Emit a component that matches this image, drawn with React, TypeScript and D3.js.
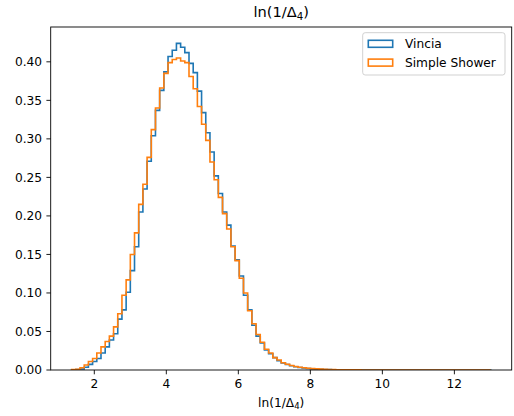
import React from "react";
import * as d3 from "d3";

const BIN_MIN = 1.371;
const BIN_MAX = 13.01;
const N_BINS = 100;

const SERIES_NAMES = ["Vincia", "Simple Shower"];
const SERIES_COLORS = ["#1f77b4", "#ff7f0e"];

const vinciaValues = [
  0.0002, 0.0005, 0.0013, 0.0035, 0.0073, 0.011, 0.015, 0.022, 0.030, 0.039,
  0.047, 0.066, 0.078, 0.101, 0.129, 0.160, 0.205, 0.235, 0.271, 0.304,
  0.337, 0.363, 0.387, 0.407, 0.415, 0.424, 0.419, 0.412, 0.398, 0.386,
  0.362, 0.334, 0.308, 0.283, 0.252, 0.229, 0.205, 0.188, 0.161, 0.143,
  0.122, 0.097, 0.078, 0.058, 0.044, 0.035, 0.026, 0.021, 0.016, 0.012,
  0.0093, 0.0072, 0.0055, 0.0042, 0.0033, 0.0026, 0.0020, 0.0015, 0.0012, 0.0009,
  0.0007, 0.0005, 0.0004, 0.0003, 0.00025, 0.0002, 0.00015, 0.00012, 0.0001, 0.00008,
  0.00006, 0.00005, 0.00004, 0.00003, 0.00002, 0.00002, 0.00001, 0.00001, 0.00001, 0,
  0, 0, 0, 0, 0, 0, 0, 0, 0, 0,
  0, 0, 0, 0, 0, 0, 0, 0, 0, 0.000005,
];

const simpleShowerValues = [
  0.0005, 0.001, 0.003, 0.0065, 0.011, 0.015, 0.022, 0.030, 0.037, 0.044,
  0.056, 0.073, 0.097, 0.117, 0.150, 0.178, 0.215, 0.241, 0.276, 0.312,
  0.340, 0.366, 0.385, 0.399, 0.403, 0.405, 0.401, 0.399, 0.381, 0.365,
  0.342, 0.319, 0.298, 0.270, 0.247, 0.224, 0.203, 0.183, 0.160, 0.142,
  0.119, 0.100, 0.077, 0.060, 0.046, 0.036, 0.027, 0.022, 0.016, 0.013,
  0.0095, 0.0075, 0.0058, 0.0045, 0.0036, 0.0029, 0.0023, 0.0018, 0.0014, 0.0011,
  0.0009, 0.0007, 0.0005, 0.0004, 0.0003, 0.00025, 0.0002, 0.00015, 0.0001, 0.00008,
  0.00006, 0.00005, 0.00004, 0.00003, 0.00002, 0.00001, 0.00001, 0, 0, 0,
  0, 0, 0, 0, 0, 0, 0, 0, 0, 0,
  0, 0, 0, 0, 0, 0, 0, 0, 0, 0,
];

const X_TICKS = [2, 4, 6, 8, 10, 12];
const Y_TICKS = [0, 0.05, 0.1, 0.15, 0.2, 0.25, 0.3, 0.35, 0.4];

const W = 514;
const H = 416;
const LEFT = 50.7;
const RIGHT = 511.7;
const TOP = 27;
const BOTTOM = 370;
const FONT = "DejaVu Sans, sans-serif";
const FS = 12.2;
const TICK = 4.3;

function stepPath(values: number[], x: d3.ScaleLinear<number, number>, y: d3.ScaleLinear<number, number>) {
  const w = (BIN_MAX - BIN_MIN) / N_BINS;
  const pts: [number, number][] = [];
  pts.push([x(BIN_MIN), y(0)]);
  values.forEach((v, i) => {
    pts.push([x(BIN_MIN + i * w), y(v)]);
    pts.push([x(BIN_MIN + (i + 1) * w), y(v)]);
  });
  pts.push([x(BIN_MAX), y(0)]);
  return d3.line()(pts) || "";
}

function MathLabel({ x, y, size }: { x: number; y: number; size: number }) {
  return (
    <text x={x} y={y} textAnchor="middle" fontFamily={FONT} fontSize={size} fill="#000">
      <tspan>ln(1/Δ</tspan>
      <tspan fontSize={size * 0.7} dy={size * 0.2}>4</tspan>
      <tspan dy={-size * 0.2}>)</tspan>
    </text>
  );
}

export default function App() {
  const R = BIN_MAX - BIN_MIN;
  const x = d3.scaleLinear().domain([BIN_MIN - 0.05 * R, BIN_MAX + 0.05 * R]).range([LEFT, RIGHT]);
  const ymax = (d3.max([...vinciaValues, ...simpleShowerValues]) as number) * 1.05;
  const y = d3.scaleLinear().domain([0, ymax]).range([BOTTOM, TOP]);
  const series = [vinciaValues, simpleShowerValues];

  return (
    <svg width={W} height={H} style={{ position: "absolute", left: 0, top: 0, background: "#fff" }}>
      <rect x={0} y={0} width={W} height={H} fill="#fff" />
      <defs>
        <clipPath id="plot-clip">
          <rect x={LEFT} y={TOP} width={RIGHT - LEFT} height={BOTTOM - TOP} />
        </clipPath>
      </defs>
      <g clipPath="url(#plot-clip)">
        {series.map((vals, si) => (
          <path key={si} d={stepPath(vals, x, y)} fill="none" stroke={SERIES_COLORS[si]} strokeWidth={1.6} strokeLinejoin="miter" />
        ))}
      </g>
      <rect x={LEFT} y={TOP} width={RIGHT - LEFT} height={BOTTOM - TOP} fill="none" stroke="#000" strokeWidth={0.9} />
      {X_TICKS.map((t) => (
        <g key={t}>
          <line x1={x(t)} x2={x(t)} y1={BOTTOM} y2={BOTTOM + TICK} stroke="#000" strokeWidth={0.9} />
          <text x={x(t)} y={BOTTOM + 2 * TICK + 9.5} textAnchor="middle" fontFamily={FONT} fontSize={FS} fill="#000">{t}</text>
        </g>
      ))}
      {Y_TICKS.map((t) => (
        <g key={t}>
          <line x1={LEFT - TICK} x2={LEFT} y1={y(t)} y2={y(t)} stroke="#000" strokeWidth={0.9} />
          <text x={LEFT - 2 * TICK} y={y(t) + 4.4} textAnchor="end" fontFamily={FONT} fontSize={FS} fill="#000">{t.toFixed(2)}</text>
        </g>
      ))}
      <MathLabel x={(LEFT + RIGHT) / 2} y={17} size={14.6} />
      <MathLabel x={(LEFT + RIGHT) / 2} y={407} size={FS} />
      <rect x={362.7} y={32.7} width={142.3} height={42.3} rx={2.5} fill="#fff" fillOpacity={0.8} stroke="#cccccc" strokeWidth={0.9} />
      {SERIES_NAMES.map((name, i) => (
        <g key={name}>
          <rect x={368.3} y={40.3 + i * 18.8} width={24.4} height={7} fill="none" stroke={SERIES_COLORS[i]} strokeWidth={1.6} />
          <text x={405} y={48 + i * 18.8} fontFamily={FONT} fontSize={FS} fill="#000">{name}</text>
        </g>
      ))}
    </svg>
  );
}
